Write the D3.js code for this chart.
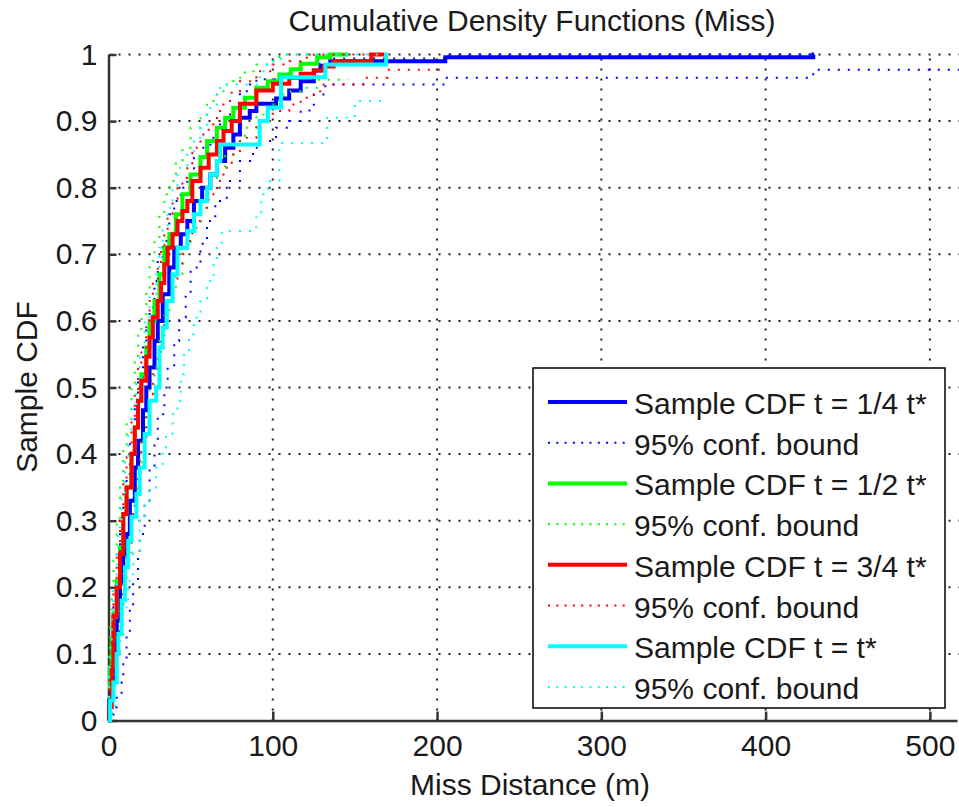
<!DOCTYPE html>
<html>
<head>
<meta charset="utf-8">
<script src="https://cdn.jsdelivr.net/npm/d3@7"></script>
<style>
  html, body { margin: 0; padding: 0; background: #fff; }
  text { font-family: "Liberation Sans", Arial, sans-serif; fill: #1a1a1a; }
</style>
</head>
<body>
<div id="chart"></div>
<script>
// axis ticks
const xTicks = [0, 100, 200, 300, 400, 500];
const yTicks = [0, 0.1, 0.2, 0.3, 0.4, 0.5, 0.6, 0.7, 0.8, 0.9, 1];

// empirical CDFs, [miss distance, F] stair points
const quarterCdf = [[0,0],[0.5,0.03],[2,0.06],[3,0.106],[5,0.15],[7,0.207],[9,0.25],[11,0.28],[13,0.33],[16,0.38],[18,0.42],[21,0.466],[23,0.5],[25,0.53],[28,0.57],[30,0.6],[33,0.64],[37,0.68],[40,0.71],[44,0.73],[48,0.75],[52,0.78],[57,0.8],[62,0.82],[66,0.84],[71,0.86],[76,0.88],[80,0.905],[86,0.915],[90,0.926],[102,0.934],[110,0.946],[117,0.96],[125,0.976],[129,0.983],[135,0.99],[205,0.996],[429,1],[429.5,1]];
const quarterLower = [[0,0],[3,0.02],[5,0.04],[8,0.057],[9,0.09],[11,0.13],[13,0.17],[15,0.21],[18,0.25],[19,0.28],[22,0.33],[25,0.38],[28,0.42],[30,0.46],[34,0.5],[36,0.53],[40,0.57],[43,0.605],[47,0.64],[50,0.68],[56,0.716],[60,0.75],[65,0.78],[72,0.81],[80,0.84],[88,0.86],[92,0.87],[102,0.89],[110,0.9],[117,0.916],[125,0.94],[132,0.955],[205,0.965],[429,0.977],[530,0.977]];
const quarterUpper = [[0,0.01],[0.5,0.07],[2,0.11],[3,0.17],[5,0.22],[7,0.28],[9,0.33],[11,0.37],[13,0.42],[16,0.47],[18,0.51],[21,0.56],[23,0.59],[25,0.62],[28,0.66],[30,0.69],[33,0.72],[37,0.76],[40,0.78],[44,0.8],[48,0.82],[52,0.845],[57,0.86],[62,0.875],[66,0.895],[71,0.91],[76,0.925],[80,0.945],[86,0.955],[90,0.963],[102,0.97],[110,0.978],[117,0.986],[135,0.994],[205,1],[429,1]];

const halfCdf = [[0,0.05],[1,0.08],[2,0.12],[3,0.16],[5,0.21],[7,0.26],[9,0.31],[11,0.35],[14,0.4],[16,0.44],[18,0.48],[20,0.52],[23,0.56],[25,0.6],[28,0.63],[31,0.67],[34,0.71],[37,0.73],[41,0.76],[45,0.79],[50,0.82],[56,0.846],[60,0.87],[66,0.89],[71,0.905],[76,0.92],[83,0.935],[90,0.95],[97,0.96],[104,0.97],[111,0.978],[117,0.986],[127,0.996],[135,1],[146,1]];
const halfLower = [[0,0],[1,0.02],[2,0.05],[3,0.08],[5,0.12],[7,0.17],[9,0.21],[11,0.25],[14,0.3],[16,0.34],[18,0.38],[20,0.42],[23,0.46],[25,0.5],[28,0.53],[31,0.57],[34,0.61],[37,0.64],[41,0.67],[45,0.71],[50,0.74],[56,0.77],[60,0.8],[66,0.83],[71,0.85],[76,0.87],[83,0.89],[90,0.91],[97,0.925],[104,0.94],[111,0.945],[117,0.95],[127,0.962],[146,0.962]];
const halfUpper = [[0,0.02],[0.3,0.1],[1,0.14],[2,0.19],[3,0.24],[5,0.3],[7,0.36],[9,0.41],[11,0.45],[14,0.5],[16,0.54],[18,0.58],[20,0.61],[23,0.65],[25,0.69],[28,0.72],[31,0.76],[34,0.79],[37,0.81],[41,0.84],[45,0.86],[50,0.89],[56,0.91],[60,0.93],[66,0.945],[71,0.955],[76,0.965],[83,0.975],[90,0.985],[97,0.99],[104,1],[146,1]];

const threeQCdf = [[0,0],[0.5,0.02],[2,0.08],[3,0.156],[5,0.2],[7,0.25],[9,0.31],[11,0.35],[14,0.4],[16,0.44],[18,0.48],[20,0.51],[23,0.546],[25,0.575],[27,0.606],[30,0.63],[32,0.657],[34,0.685],[36,0.71],[39,0.73],[42,0.75],[45,0.765],[48,0.78],[51,0.81],[56,0.83],[61,0.85],[66,0.87],[70,0.885],[75,0.9],[80,0.926],[90,0.946],[100,0.956],[110,0.965],[117,0.971],[125,0.976],[131,0.982],[137,0.99],[160,1],[168,1]];
const threeQLower = [[0,0],[1,0.01],[2,0.04],[3,0.09],[5,0.13],[7,0.17],[9,0.22],[11,0.26],[14,0.31],[16,0.35],[18,0.39],[20,0.42],[23,0.46],[25,0.49],[27,0.52],[30,0.55],[32,0.58],[34,0.61],[36,0.63],[39,0.66],[42,0.68],[45,0.7],[48,0.72],[51,0.75],[56,0.77],[61,0.79],[66,0.81],[70,0.83],[75,0.85],[80,0.875],[90,0.9],[100,0.915],[110,0.925],[117,0.935],[125,0.945],[131,0.955],[155,0.965],[170,0.977],[204,0.977]];
const threeQUpper = [[0,0.03],[0.5,0.06],[2,0.12],[3,0.2],[5,0.25],[7,0.3],[9,0.36],[11,0.4],[14,0.45],[16,0.49],[18,0.53],[20,0.56],[23,0.6],[25,0.63],[27,0.66],[30,0.68],[32,0.71],[34,0.735],[36,0.76],[39,0.78],[42,0.8],[45,0.815],[48,0.83],[51,0.86],[56,0.88],[61,0.895],[66,0.915],[70,0.93],[75,0.945],[80,0.96],[90,0.975],[100,0.985],[110,0.99],[117,0.995],[125,1],[168,1]];

const fullCdf = [[0,0],[1,0.03],[3,0.057],[5,0.1],[6,0.13],[8,0.18],[10,0.23],[12,0.27],[14,0.306],[17,0.34],[19,0.38],[22,0.43],[25,0.48],[29,0.5],[31,0.56],[33,0.59],[35.5,0.63],[39,0.67],[42,0.71],[48,0.735],[52,0.76],[56,0.78],[60,0.8],[62,0.82],[66,0.84],[68,0.865],[92,0.9],[97,0.92],[105,0.966],[132,0.985],[169,1],[170,1]];
const fullLower = [[0,0],[2,0.02],[4,0.06],[5,0.1],[7,0.13],[9,0.17],[12,0.21],[15,0.25],[19,0.3],[22,0.33],[25,0.35],[29,0.38],[33,0.41],[35,0.43],[39,0.46],[42,0.48],[44,0.52],[46,0.556],[49,0.58],[52,0.605],[56,0.63],[60,0.66],[64,0.69],[66,0.71],[69,0.735],[90,0.76],[93,0.79],[97,0.81],[104,0.867],[133,0.905],[150,0.93],[170,0.93]];
const fullUpper = [[0,0.02],[0.5,0.08],[1,0.12],[2,0.16],[3,0.2],[5,0.25],[6,0.29],[8,0.34],[10,0.39],[12,0.43],[14,0.47],[17,0.51],[19,0.55],[22,0.6],[25,0.64],[29,0.67],[31,0.71],[33,0.74],[36,0.77],[39,0.8],[42,0.83],[48,0.85],[52,0.875],[56,0.89],[60,0.91],[62,0.925],[66,0.94],[68,0.955],[92,0.975],[95,0.985],[100,0.99],[105,1],[170,1]];

const seriesLabels = ["Sample CDF t = 1/4 t*", "Sample CDF t = 1/2 t*", "Sample CDF t = 3/4 t*", "Sample CDF t = t*"];
const boundLabel = "95% conf. bound";
const seriesColors = ["#0000ff", "#00ff00", "#ff0000", "#00ffff"];

const series = [
    { cdf: quarterCdf, lower: quarterLower, upper: quarterUpper },
    { cdf: halfCdf, lower: halfLower, upper: halfUpper },
    { cdf: threeQCdf, lower: threeQLower, upper: threeQUpper },
    { cdf: fullCdf, lower: fullLower, upper: fullUpper }
];

const width = 959;
const height = 807;

const svg = d3.select("#chart")
    .append("svg")
    .attr("width", width)
    .attr("height", height);

const x = d3.scaleLinear().domain([0, 516.5]).range([108.5, 957]);
const y = d3.scaleLinear().domain([0, 1]).range([720.5, 54.5]);

svg.append("defs").append("clipPath")
    .attr("id", "plot-clip")
    .append("rect")
    .attr("x", 100).attr("y", 40)
    .attr("width", 859).attr("height", 690);

// dotted grid
const grid = svg.append("g").attr("class", "grid")
    .attr("stroke", "#222")
    .attr("stroke-width", 2)
    .attr("stroke-dasharray", "2,8");

grid.selectAll(".hgrid")
    .data(yTicks.slice(1))
    .enter()
    .append("line")
    .attr("x1", x(0) + 10).attr("x2", width)
    .attr("y1", d => y(d)).attr("y2", d => y(d));

grid.selectAll(".vgrid")
    .data(xTicks.slice(1))
    .enter()
    .append("line")
    .attr("x1", d => x(d)).attr("x2", d => x(d))
    .attr("y1", y(0)).attr("y2", y(1));

// axes
const xAxis = d3.axisBottom(x)
    .tickValues(xTicks)
    .tickSizeInner(-9)
    .tickSizeOuter(0)
    .tickPadding(14)
    .tickFormat(d3.format("d"));

const yAxis = d3.axisLeft(y)
    .tickValues(yTicks)
    .tickSizeInner(-8)
    .tickSizeOuter(0)
    .tickPadding(11)
    .tickFormat(d => String(+d.toFixed(1)));

const gx = svg.append("g")
    .attr("transform", `translate(0, ${y(0)})`)
    .call(xAxis);

const gy = svg.append("g")
    .attr("transform", `translate(${x(0)}, 0)`)
    .call(yAxis);

[gx, gy].forEach(g => {
    g.select(".domain").attr("stroke", "#333").attr("stroke-width", 2.5);
    g.selectAll(".tick line").attr("stroke", "#333").attr("stroke-width", 2.5);
    g.selectAll(".tick text")
        .attr("fill", "#1a1a1a")
        .style("font-family", "'Liberation Sans', Arial, sans-serif")
        .style("font-size", "30px");
});
gx.selectAll(".tick text").attr("dy", "0.72em");

// curves
const line = d3.line()
    .x(d => x(d[0]))
    .y(d => y(d[1]))
    .curve(d3.curveStepAfter);

const plot = svg.append("g").attr("clip-path", "url(#plot-clip)");

series.forEach((s, i) => {
    plot.append("path")
        .datum(s.cdf)
        .attr("fill", "none")
        .attr("stroke", seriesColors[i])
        .attr("stroke-width", 4)
        .attr("d", line);

    [s.lower, s.upper].forEach(b => {
        plot.append("path")
            .datum(b)
            .attr("fill", "none")
            .attr("stroke", seriesColors[i])
            .attr("stroke-width", 2)
            .attr("stroke-dasharray", "2,8")
            .attr("d", line);
    });
});

// titles
svg.append("text")
    .attr("x", 532)
    .attr("y", 31)
    .attr("text-anchor", "middle")
    .style("font-size", "30px")
    .text("Cumulative Density Functions (Miss)");

svg.append("text")
    .attr("x", 530)
    .attr("y", 795)
    .attr("text-anchor", "middle")
    .style("font-size", "30px")
    .text("Miss Distance (m)");

svg.append("text")
    .attr("transform", "translate(37, 387) rotate(-90)")
    .attr("text-anchor", "middle")
    .style("font-size", "30px")
    .text("Sample CDF");

// legend
const legend = svg.append("g").attr("transform", "translate(533, 368)");

legend.append("rect")
    .attr("width", 412)
    .attr("height", 340)
    .attr("fill", "#fff")
    .attr("stroke", "#000")
    .attr("stroke-width", 1.5);

const legendRows = [];
seriesLabels.forEach((label, i) => {
    legendRows.push({ label: label, color: seriesColors[i], dotted: false });
    legendRows.push({ label: boundLabel, color: seriesColors[i], dotted: true });
});

const rowY = d3.scaleLinear().domain([0, 7]).range([34, 319]);

const rows = legend.selectAll(".legend-row")
    .data(legendRows)
    .enter()
    .append("g")
    .attr("transform", (d, i) => `translate(0, ${rowY(i)})`);

rows.append("line")
    .attr("x1", 15).attr("x2", 94)
    .attr("stroke", d => d.color)
    .attr("stroke-width", d => d.dotted ? 2 : 4)
    .attr("stroke-dasharray", d => d.dotted ? "2,6.3" : null);

rows.append("text")
    .attr("x", 101)
    .attr("y", 12)
    .style("font-size", "30px")
    .text(d => d.label);
</script>
</body>
</html>
